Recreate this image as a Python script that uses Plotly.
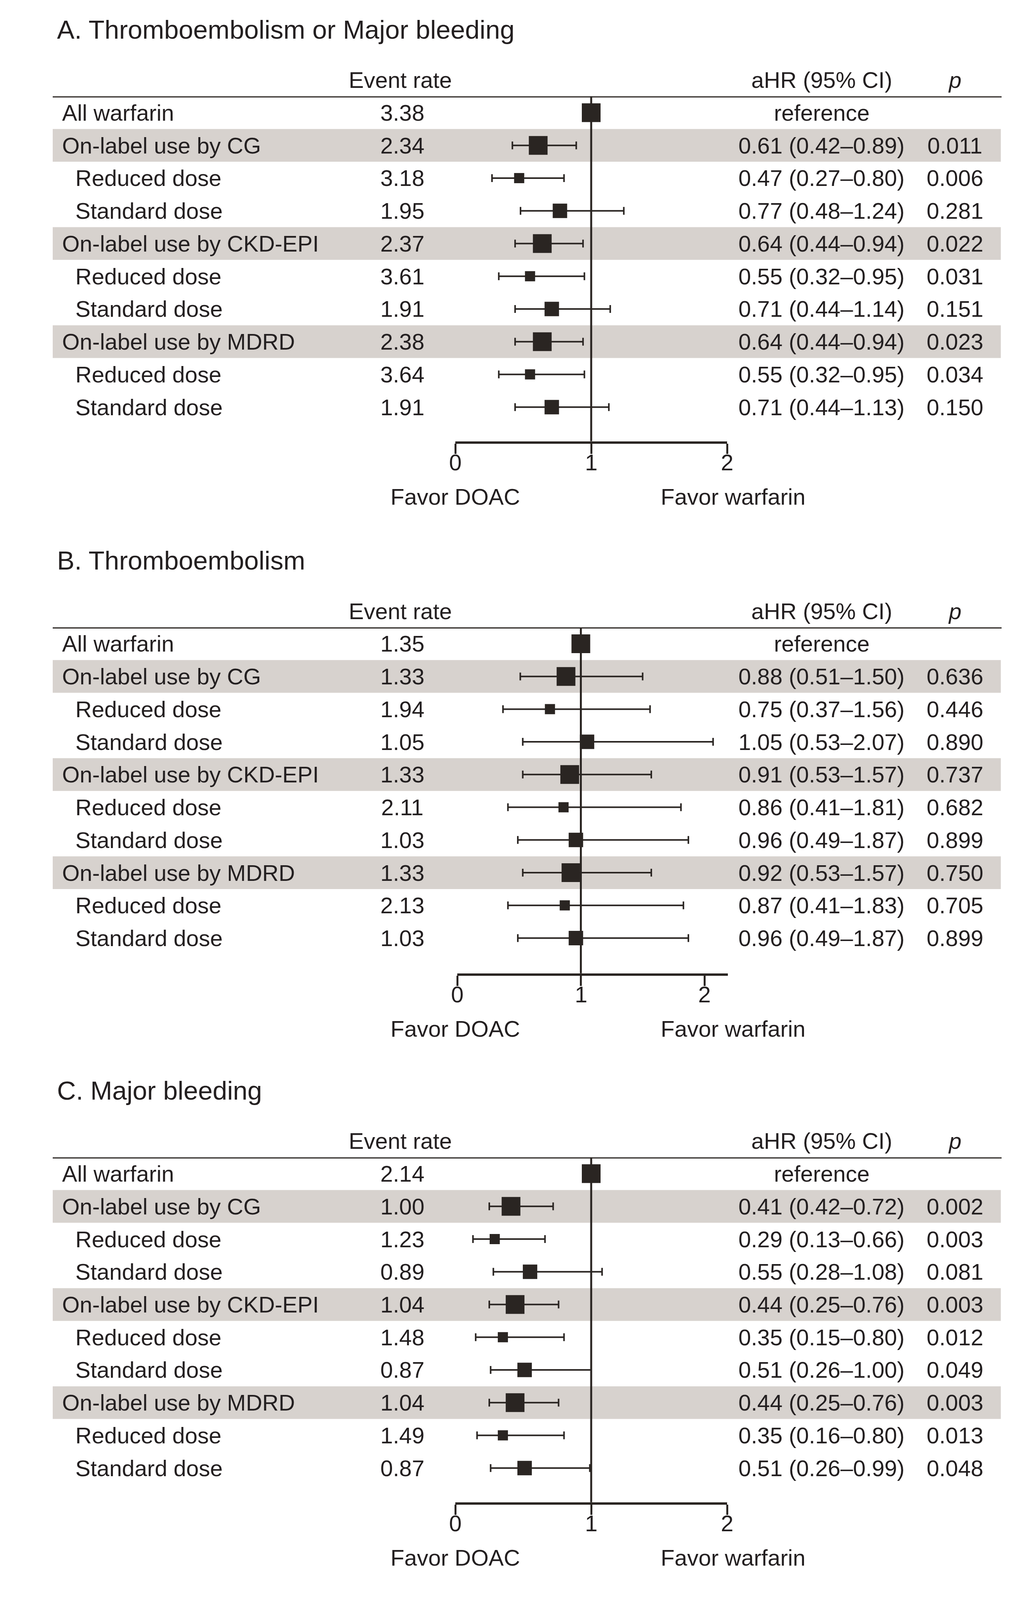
import plotly.graph_objects as go

W, H = 2648, 4402
FONT = "Liberation Sans, Arial, Helvetica, sans-serif"
TXT = "#231f20"
MARK = "#2a2522"
BAND = "#d7d2ce"

# ---------------- data ----------------
titles = ["A. Thromboembolism or Major bleeding", "B. Thromboembolism", "C. Major bleeding"]

row_labels = ["All warfarin", "On-label use by CG", "Reduced dose", "Standard dose",
              "On-label use by CKD-EPI", "Reduced dose", "Standard dose",
              "On-label use by MDRD", "Reduced dose", "Standard dose"]
row_kind = ["ref", "group", "reduced", "standard", "group", "reduced", "standard",
            "group", "reduced", "standard"]

header_rate = "Event rate"
header_hr = "aHR (95% CI)"
header_p = "p"
tick_vals = [0, 1, 2]
favor_left = "Favor DOAC"
favor_right = "Favor warfarin"

A_rate = ["3.38", "2.34", "3.18", "1.95", "2.37", "3.61", "1.91", "2.38", "3.64", "1.91"]
A_hr = [1.00, 0.61, 0.47, 0.77, 0.64, 0.55, 0.71, 0.64, 0.55, 0.71]
A_lo = [1.00, 0.42, 0.27, 0.48, 0.44, 0.32, 0.44, 0.44, 0.32, 0.44]
A_hi = [1.00, 0.89, 0.80, 1.24, 0.94, 0.95, 1.14, 0.94, 0.95, 1.13]
A_ci = ["reference", "0.61 (0.42–0.89)", "0.47 (0.27–0.80)", "0.77 (0.48–1.24)",
        "0.64 (0.44–0.94)", "0.55 (0.32–0.95)", "0.71 (0.44–1.14)",
        "0.64 (0.44–0.94)", "0.55 (0.32–0.95)", "0.71 (0.44–1.13)"]
A_p = ["", "0.011", "0.006", "0.281", "0.022", "0.031", "0.151", "0.023", "0.034", "0.150"]

B_rate = ["1.35", "1.33", "1.94", "1.05", "1.33", "2.11", "1.03", "1.33", "2.13", "1.03"]
B_hr = [1.00, 0.88, 0.75, 1.05, 0.91, 0.86, 0.96, 0.92, 0.87, 0.96]
B_lo = [1.00, 0.51, 0.37, 0.53, 0.53, 0.41, 0.49, 0.53, 0.41, 0.49]
B_hi = [1.00, 1.50, 1.56, 2.07, 1.57, 1.81, 1.87, 1.57, 1.83, 1.87]
B_ci = ["reference", "0.88 (0.51–1.50)", "0.75 (0.37–1.56)", "1.05 (0.53–2.07)",
        "0.91 (0.53–1.57)", "0.86 (0.41–1.81)", "0.96 (0.49–1.87)",
        "0.92 (0.53–1.57)", "0.87 (0.41–1.83)", "0.96 (0.49–1.87)"]
B_p = ["", "0.636", "0.446", "0.890", "0.737", "0.682", "0.899", "0.750", "0.705", "0.899"]

C_rate = ["2.14", "1.00", "1.23", "0.89", "1.04", "1.48", "0.87", "1.04", "1.49", "0.87"]
C_hr = [1.00, 0.41, 0.29, 0.55, 0.44, 0.35, 0.51, 0.44, 0.35, 0.51]
C_lo = [1.00, 0.25, 0.13, 0.28, 0.25, 0.15, 0.26, 0.25, 0.16, 0.26]
C_hi = [1.00, 0.72, 0.66, 1.08, 0.76, 0.80, 1.00, 0.76, 0.80, 0.99]
C_ci = ["reference", "0.41 (0.42–0.72)", "0.29 (0.13–0.66)", "0.55 (0.28–1.08)",
        "0.44 (0.25–0.76)", "0.35 (0.15–0.80)", "0.51 (0.26–1.00)",
        "0.44 (0.25–0.76)", "0.35 (0.16–0.80)", "0.51 (0.26–0.99)"]
C_p = ["", "0.002", "0.003", "0.081", "0.003", "0.012", "0.049", "0.003", "0.013", "0.048"]

panels = [
    dict(rate=A_rate, hr=A_hr, lo=A_lo, hi=A_hi, ci=A_ci, p=A_p),
    dict(rate=B_rate, hr=B_hr, lo=B_lo, hi=B_hi, ci=B_ci, p=B_p),
    dict(rate=C_rate, hr=C_hr, lo=C_lo, hi=C_hi, ci=C_ci, p=C_p),
]

# ---------------- layout geometry (reference pixels, converted to paper fractions) ----------------
geom = [
    dict(top=265, axis=1214, x0=1166, unit=348.0, xmax=2.0),
    dict(top=1726, axis=2678, x0=1171, unit=316.5, xmax=2.19),
    dict(top=3184, axis=4133, x0=1166, unit=348.0, xmax=2.0),
]
ROW_H = 90
size_of = {"ref": 48, "group": 48, "standard": 37, "reduced": 26}
X_LEFT, X_RIGHT = 135, 2565
X_LAB_GROUP, X_LAB_SUB = 157, 191
X_RATE, X_CI, X_P = 1030, 2104, 2445


def px(x):
    return x / W


def py(y):
    return 1 - y / H


fig = go.Figure()
shapes, annotations = [], []
layout_axes = {}
txt_font = dict(size=58, color=TXT, family=FONT)

for k, (pan, g) in enumerate(zip(panels, geom), start=1):
    xa = "x" if k == 1 else f"x{k}"
    ya = "y" if k == 1 else f"y{k}"
    xkey = "xaxis" if k == 1 else f"xaxis{k}"
    ykey = "yaxis" if k == 1 else f"yaxis{k}"
    n = len(row_labels)
    rows = list(range(n))
    axis_row = (g["axis"] - g["top"]) / ROW_H - 0.5

    # bands for group rows
    for i, kind in enumerate(row_kind):
        if kind == "group":
            shapes.append(dict(type="rect", xref="paper", yref=ya,
                               x0=px(X_LEFT), x1=px(X_RIGHT - 2), y0=i - 0.5, y1=i + 0.5,
                               fillcolor=BAND, line=dict(width=0), layer="below"))
    # header rule
    shapes.append(dict(type="line", xref="paper", yref=ya, x0=px(X_LEFT), x1=px(X_RIGHT),
                       y0=-0.5, y1=-0.5, line=dict(color=MARK, width=6), layer="above"))
    # reference line at HR = 1
    shapes.append(dict(type="line", xref=xa, yref=f"{ya} domain", x0=1, x1=1, y0=0, y1=1,
                       line=dict(color=MARK, width=5), layer="below"))

    err_plus = [h - m for h, m in zip(pan["hi"], pan["hr"])]
    err_minus = [m - l for m, l in zip(pan["hr"], pan["lo"])]
    fig.add_trace(go.Scatter(
        x=pan["hr"], y=rows, mode="markers", xaxis=xa, yaxis=ya, showlegend=False,
        marker=dict(symbol="square", size=[size_of[t] for t in row_kind], color=MARK,
                    opacity=1, line=dict(width=0)),
        error_x=dict(type="data", symmetric=False, array=err_plus, arrayminus=err_minus,
                     thickness=4, width=10, color=MARK),
        hoverinfo="skip"))

    layout_axes[xkey] = dict(domain=[px(g["x0"]), px(g["x0"] + g["unit"] * g["xmax"])],
                             range=[0, g["xmax"]], anchor=ya, showline=True, linewidth=6,
                             linecolor=MARK, ticks="outside", ticklen=26, tickwidth=5,
                             tickcolor=MARK, tickvals=tick_vals, showticklabels=False,
                             showgrid=False, zeroline=False, fixedrange=True)
    layout_axes[ykey] = dict(domain=[py(g["axis"]), py(g["top"])], range=[axis_row, -0.5],
                             anchor=xa, visible=False, fixedrange=True)

    # tick labels (placed on the panel's own x scale)
    for v in tick_vals:
        annotations.append(dict(text=str(v), xref=xa, yref="paper", x=v,
                                y=py(g["axis"] + 58), xanchor="center", yanchor="middle",
                                showarrow=False, font=txt_font))

    # title and headers
    annotations.append(dict(text=titles[k - 1], xref="paper", yref="paper", x=px(144),
                            y=py(g["top"] - 184), xanchor="left", yanchor="middle",
                            showarrow=False, font=dict(size=67, color=TXT, family=FONT)))
    for txt, xx in [(header_rate, 1025), (header_hr, X_CI), ("<i>" + header_p + "</i>", X_P)]:
        annotations.append(dict(text=txt, xref="paper", yref="paper", x=px(xx),
                                y=py(g["top"] - 45), xanchor="center", yanchor="middle",
                                showarrow=False, font=txt_font))
    for txt, xx in [(favor_left, 1166), (favor_right, 1878)]:
        annotations.append(dict(text=txt, xref="paper", yref="paper", x=px(xx),
                                y=py(g["axis"] + 152), xanchor="center", yanchor="middle",
                                showarrow=False, font=txt_font))

    # row texts
    for i in rows:
        xl = X_LAB_SUB if row_kind[i] in ("reduced", "standard") else X_LAB_GROUP
        items = [(row_labels[i], xl, "left"), (pan["rate"][i], X_RATE, "center"),
                 (pan["ci"][i], X_CI, "center"), (pan["p"][i], X_P, "center")]
        for txt, xx, anc in items:
            if not txt:
                continue
            annotations.append(dict(text=txt, xref="paper", yref=ya, x=px(xx), y=i,
                                    xanchor=anc, yanchor="middle", showarrow=False,
                                    font=txt_font))

fig.update_layout(autosize=True, margin=dict(l=0, r=0, t=0, b=0, pad=0),
                  paper_bgcolor="white", plot_bgcolor="rgba(0,0,0,0)",
                  font=dict(family=FONT, color=TXT), shapes=shapes,
                  annotations=annotations, showlegend=False, **layout_axes)

post = ("document.documentElement.style.margin='0';"
        "document.body.style.margin='0';"
        "document.body.style.overflow='hidden';"
        "var gd=document.getElementById('{plot_id}');"
        "Plotly.Plots.resize(gd);")

fig.write_html("out.html", default_width="100vw", default_height="100vh",
               config={"responsive": True, "displayModeBar": False}, post_script=post)
